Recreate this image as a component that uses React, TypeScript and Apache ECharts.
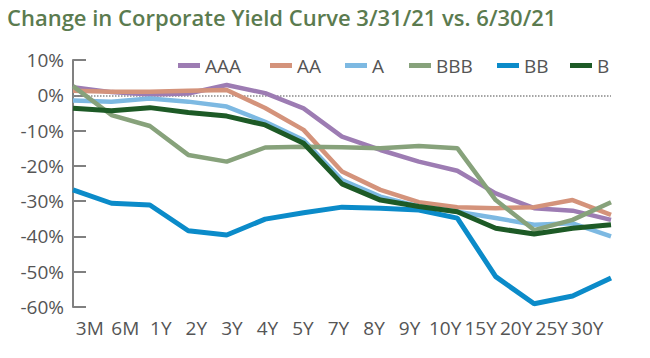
import React, { useEffect, useRef } from "react";
import * as echarts from "echarts";

const categories = ["3M", "6M", "1Y", "2Y", "3Y", "4Y", "5Y", "7Y", "8Y", "9Y", "10Y", "15Y", "20Y", "25Y", "30Y"];
const seriesNames = ["AAA", "AA", "A", "BBB", "BB", "B"];
const aaa = [2.3, 0.9, 0.2, 0.5, 2.9, 0.6, -3.7, -11.7, -15.5, -18.8, -21.4, -27.8, -32, -32.7, -35.3];
const aa = [1.3, 1.0, 1.0, 1.3, 1.5, -3.6, -9.8, -21.6, -26.8, -30.3, -31.7, -32, -31.7, -29.7, -33.9];
const a = [-1.5, -1.8, -0.9, -1.8, -3.2, -7.5, -12.7, -24, -28.7, -31.5, -33, -34.8, -36.7, -36.3, -40];
const bbb = [2.6, -5.6, -8.7, -16.9, -18.8, -14.8, -14.6, -14.7, -15, -14.4, -15, -29.7, -38.2, -35.3, -30.3];
const bb = [-26.8, -30.6, -31.1, -38.4, -39.6, -35.1, -33.3, -31.7, -32, -32.5, -34.8, -51.4, -59.1, -56.9, -51.8];
const b = [-3.7, -4.4, -3.5, -4.9, -5.9, -8.4, -13.6, -25.1, -29.7, -31.5, -33, -37.7, -39.3, -37.7, -36.7];
const seriesData = [aaa, aa, a, bbb, bb, b];
const colors = ["#9d7cb3", "#d4937b", "#7db9e2", "#87a27b", "#0b8bc9", "#1d5a26"];
const legendLeft = [178, 270, 345, 409, 497, 570];
const yTicks = { min: -60, max: 10, interval: 10 };
const titleText = "Change in Corporate Yield Curve 3/31/21 vs. 6/30/21";

const FONT = "'Open Sans', sans-serif";

export default function App() {
  const ref = useRef<HTMLDivElement>(null);
  useEffect(() => {
    if (!ref.current) return;
    const chart = echarts.init(ref.current, undefined, { renderer: "svg" });
    const option: any = {
      animation: false,
      backgroundColor: "#ffffff",
      textStyle: { fontFamily: FONT },
      title: {
        text: titleText,
        left: 2,
        top: 1,
        textStyle: { fontFamily: FONT, fontSize: 22, fontWeight: 600, color: "#5b7b4f" },
      },
      legend: seriesNames.map((n, i) => ({
        data: [n],
        left: legendLeft[i],
        top: 56,
        icon: "rect",
        itemWidth: 22,
        itemHeight: 5,
        itemGap: 0,
        textStyle: { fontFamily: FONT, fontSize: 19, color: "#555", padding: [0, 0, 0, 0] },
        padding: 0,
      })),
      grid: [
        { left: 73, right: 39, top: 60, bottom: 51 },
        { left: 72, right: 45, top: 60, bottom: 51 },
      ],
      xAxis: [
        {
          type: "category",
          gridIndex: 0,
          data: categories,
          boundaryGap: false,
          axisLine: { show: false },
          axisTick: { show: false },
          axisLabel: { show: false },
          splitLine: { show: false },
        },
        {
          type: "category",
          gridIndex: 1,
          data: categories,
          boundaryGap: true,
          axisLine: { show: false },
          axisTick: { show: false },
          axisLabel: { show: true, interval: 0, fontFamily: FONT, fontSize: 19, color: "#555", margin: 11 },
          splitLine: { show: false },
        },
      ],
      yAxis: [
        {
          type: "value",
          gridIndex: 0,
          min: yTicks.min,
          max: yTicks.max,
          interval: yTicks.interval,
          axisLine: { show: true, lineStyle: { color: "#808080", width: 2 } },
          axisTick: { show: true, inside: true, length: 13, lineStyle: { color: "#808080", width: 2 } },
          axisLabel: { formatter: "{value}%", fontFamily: FONT, fontSize: 19, color: "#555", margin: 9 },
          splitLine: { show: false },
        },
        {
          type: "value",
          gridIndex: 1,
          min: yTicks.min,
          max: yTicks.max,
          show: false,
        },
      ],
      series: seriesNames.map((n, i) => ({
        name: n,
        type: "line",
        xAxisIndex: 0,
        yAxisIndex: 0,
        data: seriesData[i],
        showSymbol: false,
        symbol: "none",
        color: colors[i],
        lineStyle: { color: colors[i], width: i >= 4 ? 5 : 4.5 },
        z: 2 + i,
        markLine:
          i === 0
            ? {
                silent: true,
                symbol: "none",
                label: { show: false },
                lineStyle: { color: "#888", type: "dotted", width: 1.5 },
                data: [{ yAxis: 0 }],
                z: 1,
              }
            : undefined,
      })),
    };
    chart.setOption(option);
    return () => chart.dispose();
  }, []);
  return (
    <div
      ref={ref}
      style={{ position: "fixed", left: 0, top: 0, width: 650, height: 358, background: "#fff" }}
    />
  );
}
